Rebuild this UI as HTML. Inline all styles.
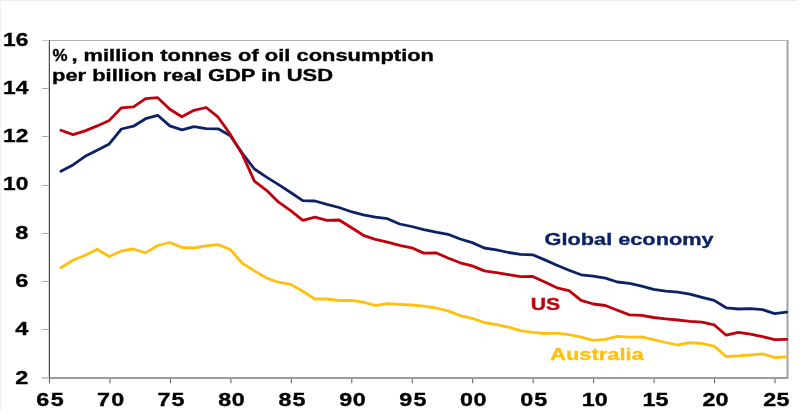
<!DOCTYPE html>
<html><head><meta charset="utf-8"><title>Oil intensity</title>
<style>
html,body{margin:0;padding:0;background:#fff;}
body{width:803px;height:415px;overflow:hidden;}
svg{display:block;}
text{font-family:"Liberation Sans",sans-serif;font-weight:bold;stroke-width:0.35px;}
</style></head><body>
<svg width="803" height="415" viewBox="0 0 803 415">
<defs><filter id="tsoft" x="-5%" y="-20%" width="110%" height="140%"><feGaussianBlur stdDeviation="0.35"/></filter><filter id="soft" x="-5%" y="-5%" width="110%" height="110%"><feGaussianBlur stdDeviation="0.55"/></filter></defs>
<rect x="0" y="0" width="803" height="415" fill="#ffffff"/>
<rect x="0" y="0" width="798" height="1" fill="#ececec"/>
<rect x="0" y="0" width="1" height="411" fill="#f1f1f1"/>

<g shape-rendering="crispEdges">
<rect x="42" y="40" width="7" height="1" fill="#c4c4c4"/>
<rect x="49" y="40" width="739" height="1" fill="#b0b0b0"/>
<rect x="786" y="40" width="1" height="339" fill="#d2d2d2"/>
<rect x="787" y="40" width="1" height="339" fill="#a2a2a2"/>
<rect x="788" y="40" width="1" height="339" fill="#cfcfcf"/>
<rect x="42" y="377" width="7" height="2" fill="#c8c8c8"/>
<rect x="49" y="377" width="739" height="2" fill="#9c9c9c"/>
<rect x="48" y="40" width="1" height="339" fill="#d4d4d4"/>
<rect x="49" y="40" width="1" height="339" fill="#505050"/>
<rect x="42" y="329" width="7" height="1" fill="#a8a8a8"/>
<rect x="42" y="281" width="7" height="1" fill="#a8a8a8"/>
<rect x="42" y="233" width="7" height="1" fill="#a8a8a8"/>
<rect x="42" y="185" width="7" height="1" fill="#a8a8a8"/>
<rect x="42" y="136" width="7" height="1" fill="#a8a8a8"/>
<rect x="42" y="88" width="7" height="1" fill="#a8a8a8"/>
</g>
<rect x="49.00" y="379" width="1" height="4.3" fill="#5a5a5a"/>
<rect x="109.46" y="379" width="1" height="4.3" fill="#5a5a5a"/>
<rect x="169.92" y="379" width="1" height="4.3" fill="#5a5a5a"/>
<rect x="230.38" y="379" width="1" height="4.3" fill="#5a5a5a"/>
<rect x="290.84" y="379" width="1" height="4.3" fill="#5a5a5a"/>
<rect x="351.30" y="379" width="1" height="4.3" fill="#5a5a5a"/>
<rect x="411.76" y="379" width="1" height="4.3" fill="#5a5a5a"/>
<rect x="472.22" y="379" width="1" height="4.3" fill="#5a5a5a"/>
<rect x="532.68" y="379" width="1" height="4.3" fill="#5a5a5a"/>
<rect x="593.14" y="379" width="1" height="4.3" fill="#5a5a5a"/>
<rect x="653.60" y="379" width="1" height="4.3" fill="#5a5a5a"/>
<rect x="714.06" y="379" width="1" height="4.3" fill="#5a5a5a"/>
<rect x="774.52" y="379" width="1" height="4.3" fill="#5a5a5a"/>
<polyline filter="url(#soft)" fill="none" stroke="#ffc10e" stroke-width="2.8" stroke-linejoin="round" stroke-linecap="round" points="60.9,267.8 73.0,260.3 85.1,255.3 97.2,249.2 109.3,256.5 121.4,250.9 133.5,249.0 145.6,252.9 157.7,245.5 169.8,242.5 181.9,247.5 194.0,248.0 206.1,245.9 218.2,244.6 230.3,249.5 242.4,263.4 254.4,270.9 266.5,278.0 278.6,282.2 290.7,284.4 302.8,291.2 314.9,299.0 327.0,299.0 339.1,300.5 351.2,300.3 363.3,302.2 375.4,305.5 387.5,303.7 399.6,304.3 411.7,305.0 423.8,306.1 435.9,308.0 448.0,310.9 460.1,315.6 472.2,318.4 484.3,322.5 496.4,324.6 508.5,327.2 520.6,330.7 532.7,332.4 544.8,333.5 556.9,333.1 569.0,334.6 581.1,337.1 593.2,340.3 605.3,339.3 617.4,336.4 629.5,337.2 641.6,336.9 653.6,339.6 665.7,342.5 677.8,345.0 689.9,342.7 702.0,343.5 714.1,346.1 726.2,356.5 738.3,355.9 750.4,355.0 762.5,353.8 774.6,357.5 786.7,356.8"/>
<polyline filter="url(#soft)" fill="none" stroke="#0c2465" stroke-width="2.8" stroke-linejoin="round" stroke-linecap="round" points="60.9,171.3 73.0,164.9 85.1,156.3 97.2,150.2 109.3,143.9 121.4,129.0 133.5,126.2 145.6,118.7 157.7,115.3 169.8,125.9 181.9,129.9 194.0,126.6 206.1,128.7 218.2,128.8 230.3,135.7 242.4,153.4 254.4,169.0 266.5,177.1 278.6,184.6 290.7,192.5 302.8,200.7 314.9,201.0 327.0,204.4 339.1,207.5 351.2,211.7 363.3,214.9 375.4,217.2 387.5,218.7 399.6,224.0 411.7,226.5 423.8,229.6 435.9,232.1 448.0,234.3 460.1,239.0 472.2,242.6 484.3,248.0 496.4,249.9 508.5,252.5 520.6,254.4 532.7,254.8 544.8,259.9 556.9,265.2 569.0,270.3 581.1,274.8 593.2,276.1 605.3,278.2 617.4,282.0 629.5,283.4 641.6,286.2 653.6,289.4 665.7,291.2 677.8,292.1 689.9,294.2 702.0,297.4 714.1,300.4 726.2,307.8 738.3,309.0 750.4,308.7 762.5,309.6 774.6,313.7 786.7,312.1"/>
<polyline filter="url(#soft)" fill="none" stroke="#c0000b" stroke-width="2.8" stroke-linejoin="round" stroke-linecap="round" points="60.9,130.3 73.0,134.6 85.1,130.9 97.2,125.9 109.3,120.4 121.4,107.8 133.5,106.8 145.6,98.7 157.7,97.7 169.8,109.3 181.9,116.8 194.0,110.3 206.1,107.5 218.2,117.2 230.3,134.4 242.4,154.6 254.4,181.2 266.5,190.3 278.6,202.2 290.7,210.6 302.8,220.3 314.9,217.1 327.0,220.3 339.1,220.0 351.2,227.5 363.3,235.3 375.4,239.4 387.5,242.2 399.6,245.3 411.7,247.8 423.8,253.1 435.9,252.8 448.0,258.0 460.1,262.8 472.2,265.9 484.3,270.9 496.4,272.6 508.5,274.7 520.6,276.7 532.7,276.4 544.8,281.9 556.9,287.8 569.0,290.7 581.1,300.3 593.2,304.0 605.3,305.5 617.4,310.3 629.5,314.9 641.6,315.4 653.6,317.5 665.7,318.8 677.8,320.0 689.9,321.3 702.0,322.2 714.1,324.8 726.2,335.2 738.3,332.4 750.4,334.2 762.5,336.6 774.6,339.7 786.7,339.4"/>
<text x="28.4" y="45.5" font-size="18.8" text-anchor="end" textLength="25.3" lengthAdjust="spacingAndGlyphs" filter="url(#tsoft)" fill="#000" stroke="#000">16</text>
<text x="28.4" y="93.8" font-size="18.8" text-anchor="end" textLength="25.3" lengthAdjust="spacingAndGlyphs" filter="url(#tsoft)" fill="#000" stroke="#000">14</text>
<text x="28.4" y="142.1" font-size="18.8" text-anchor="end" textLength="25.3" lengthAdjust="spacingAndGlyphs" filter="url(#tsoft)" fill="#000" stroke="#000">12</text>
<text x="28.4" y="190.4" font-size="18.8" text-anchor="end" textLength="25.3" lengthAdjust="spacingAndGlyphs" filter="url(#tsoft)" fill="#000" stroke="#000">10</text>
<text x="28.4" y="238.7" font-size="18.8" text-anchor="end" textLength="13.1" lengthAdjust="spacingAndGlyphs" filter="url(#tsoft)" fill="#000" stroke="#000">8</text>
<text x="28.4" y="287.0" font-size="18.8" text-anchor="end" textLength="13.1" lengthAdjust="spacingAndGlyphs" filter="url(#tsoft)" fill="#000" stroke="#000">6</text>
<text x="28.4" y="335.3" font-size="18.8" text-anchor="end" textLength="13.1" lengthAdjust="spacingAndGlyphs" filter="url(#tsoft)" fill="#000" stroke="#000">4</text>
<text x="28.4" y="383.6" font-size="18.8" text-anchor="end" textLength="13.1" lengthAdjust="spacingAndGlyphs" filter="url(#tsoft)" fill="#000" stroke="#000">2</text>
<text transform="translate(50.8,406.3) scale(1.24,1)" font-size="18.8" text-anchor="middle" letter-spacing="1.2" filter="url(#tsoft)" fill="#000" stroke="#000">65</text>
<text transform="translate(111.2,406.3) scale(1.24,1)" font-size="18.8" text-anchor="middle" letter-spacing="1.0" filter="url(#tsoft)" fill="#000" stroke="#000">70</text>
<text transform="translate(171.6,406.3) scale(1.24,1)" font-size="18.8" text-anchor="middle" letter-spacing="1.0" filter="url(#tsoft)" fill="#000" stroke="#000">75</text>
<text transform="translate(231.7,406.3) scale(1.24,1)" font-size="18.8" text-anchor="middle" letter-spacing="0.3" filter="url(#tsoft)" fill="#000" stroke="#000">80</text>
<text transform="translate(292.6,406.3) scale(1.24,1)" font-size="18.8" text-anchor="middle" letter-spacing="1.0" filter="url(#tsoft)" fill="#000" stroke="#000">85</text>
<text transform="translate(352.7,406.3) scale(1.24,1)" font-size="18.8" text-anchor="middle" letter-spacing="0.5" filter="url(#tsoft)" fill="#000" stroke="#000">90</text>
<text transform="translate(413.5,406.3) scale(1.24,1)" font-size="18.8" text-anchor="middle" letter-spacing="1.0" filter="url(#tsoft)" fill="#000" stroke="#000">95</text>
<text transform="translate(473.6,406.3) scale(1.24,1)" font-size="18.8" text-anchor="middle" letter-spacing="0.5" filter="url(#tsoft)" fill="#000" stroke="#000">00</text>
<text transform="translate(534.3,406.3) scale(1.24,1)" font-size="18.8" text-anchor="middle" letter-spacing="0.8" filter="url(#tsoft)" fill="#000" stroke="#000">05</text>
<text transform="translate(594.8,406.3) scale(1.24,1)" font-size="18.8" text-anchor="middle" letter-spacing="0" filter="url(#tsoft)" fill="#000" stroke="#000">10</text>
<text transform="translate(655.5,406.3) scale(1.24,1)" font-size="18.8" text-anchor="middle" letter-spacing="0" filter="url(#tsoft)" fill="#000" stroke="#000">15</text>
<text transform="translate(715.5,406.3) scale(1.24,1)" font-size="18.8" text-anchor="middle" letter-spacing="0" filter="url(#tsoft)" fill="#000" stroke="#000">20</text>
<text transform="translate(776.5,406.3) scale(1.24,1)" font-size="18.8" text-anchor="middle" letter-spacing="0.3" filter="url(#tsoft)" fill="#000" stroke="#000">25</text>
<text x="52.6" y="61.3" font-size="17" textLength="15" lengthAdjust="spacingAndGlyphs" filter="url(#tsoft)" fill="#000" stroke="#000">%</text>
<text x="71.4" y="61.3" font-size="17" textLength="362.6" lengthAdjust="spacingAndGlyphs" filter="url(#tsoft)" fill="#000" stroke="#000">, million tonnes of oil consumption</text>
<text x="52" y="81.4" font-size="17" textLength="281" lengthAdjust="spacingAndGlyphs" filter="url(#tsoft)" fill="#000" stroke="#000">per billion real GDP in USD</text>
<text x="544.6" y="245.2" font-size="17.2" textLength="169" lengthAdjust="spacingAndGlyphs" filter="url(#tsoft)" fill="#0c2465" stroke="#0c2465">Global economy</text>
<text x="530.7" y="309.6" font-size="16.6" textLength="29.4" lengthAdjust="spacingAndGlyphs" filter="url(#tsoft)" fill="#c0000b" stroke="#c0000b">US</text>
<text x="550.2" y="360.3" font-size="17" textLength="93.5" lengthAdjust="spacingAndGlyphs" filter="url(#tsoft)" fill="#ffc10e" stroke="#ffc10e">Australia</text>
</svg></body></html>
